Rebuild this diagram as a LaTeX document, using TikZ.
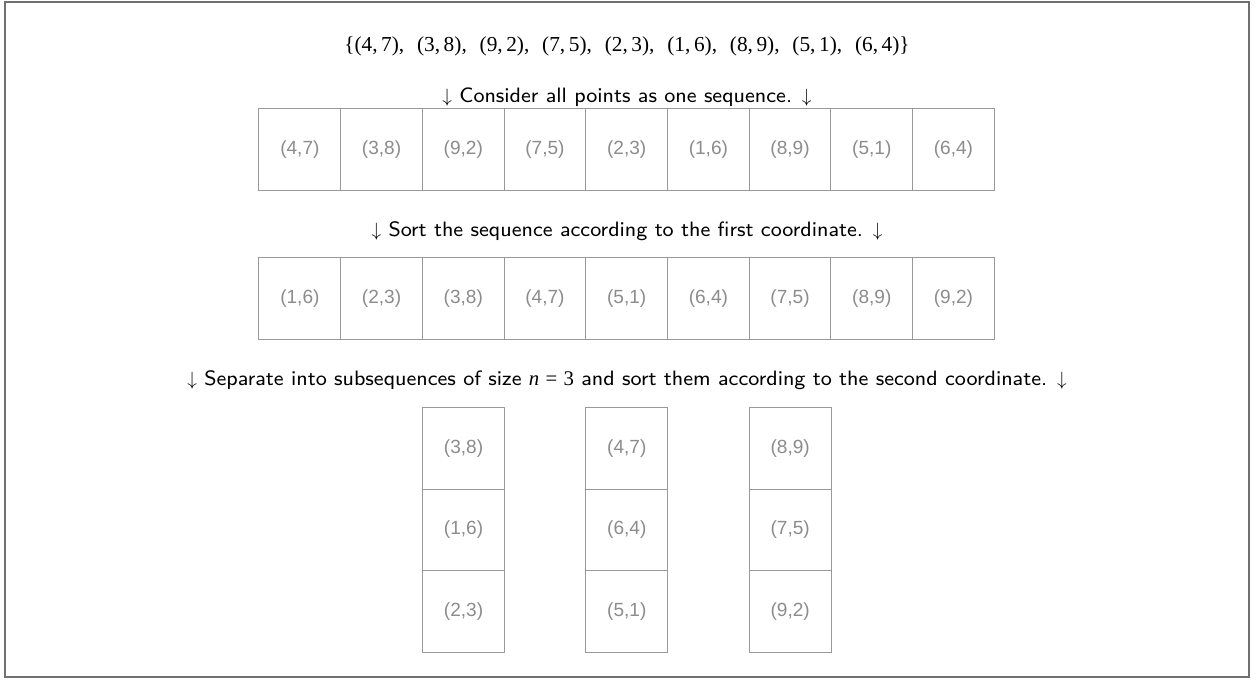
\documentclass[tikz,border=0pt]{standalone}
\usepackage{fontspec}
\newfontfamily\lsans{Liberation Sans}
\newfontfamily\tms{Liberation Serif}
\newfontfamily\capfont{lmsans8-regular.otf}
\definecolor{cellline}{HTML}{999999}
\definecolor{celltext}{HTML}{8C8C8C}
\definecolor{framecol}{HTML}{707070}
\begin{document}
\begin{tikzpicture}[x=0.75pt,y=-0.75pt,
  cell/.style={draw=cellline, line width=0.75pt, minimum width=61.3pt, minimum height=61.1pt, inner sep=0pt, text=celltext, font=\lsans\fontsize{14.3}{16}\selectfont},
  caption/.style={font=\capfont\fontsize{15.6}{18}\selectfont, inner sep=0pt},
  settext/.style={font=\tms\fontsize{16}{18}\selectfont, inner sep=0pt}]
\useasboundingbox (0,0) rectangle (1260,679);
\draw[framecol, line width=1.5pt] (5,2) rectangle (1249,677);

\node[settext] (set) at (627,46) {\{(4,\,7),\hspace{0.6em}(3,\,8),\hspace{0.6em}(9,\,2),\hspace{0.6em}(7,\,5),\hspace{0.6em}(2,\,3),\hspace{0.6em}(1,\,6),\hspace{0.6em}(8,\,9),\hspace{0.6em}(5,\,1),\hspace{0.6em}(6,\,4)\}};

\node[caption] (c1) at (627,97) {$\downarrow$ Consider all points as one sequence. $\downarrow$};
\node[caption] (c2) at (627,231) {$\downarrow$ Sort the sequence according to the first coordinate. $\downarrow$};
\node[caption] (c3) at (627,380) {$\downarrow$ Separate into subsequences of size {\tms\itshape n}\hspace{0.3em}{\tms =}\hspace{0.3em}{\tms 3} and sort them according to the second coordinate. $\downarrow$};

\foreach \t [count=\i] in {(4,7),(3,8),(9,2),(7,5),(2,3),(1,6),(8,9),(5,1),(6,4)}
  \node[cell] (a\i) at ({259+81.7*(\i-0.5)},149.3) {\t};
\foreach \t [count=\i] in {(1,6),(2,3),(3,8),(4,7),(5,1),(6,4),(7,5),(8,9),(9,2)}
  \node[cell] (b\i) at ({259+81.7*(\i-0.5)},298.5) {\t};

\foreach \t [count=\i] in {(3,8),(1,6),(2,3)}
  \node[cell] (p\i) at (463.5,{407.7+81.5*(\i-0.5)}) {\t};
\foreach \t [count=\i] in {(4,7),(6,4),(5,1)}
  \node[cell] (q\i) at (626.8,{407.7+81.5*(\i-0.5)}) {\t};
\foreach \t [count=\i] in {(8,9),(7,5),(9,2)}
  \node[cell] (s\i) at (790.2,{407.7+81.5*(\i-0.5)}) {\t};
\end{tikzpicture}
\end{document}
